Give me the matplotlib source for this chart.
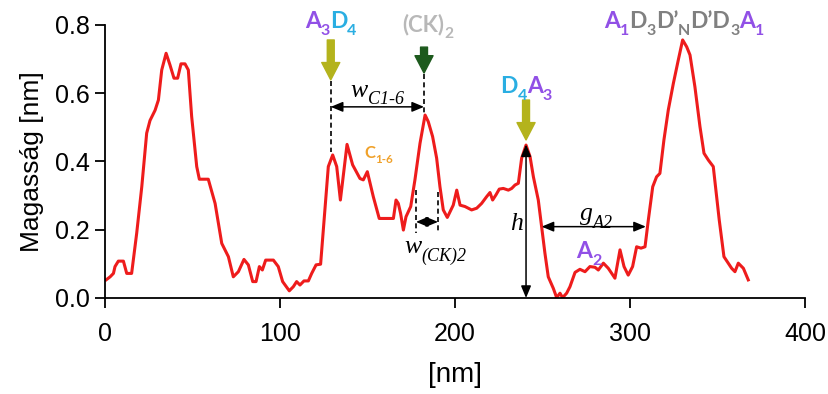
import matplotlib
matplotlib.use("Agg")
import matplotlib.pyplot as plt
from matplotlib.transforms import IdentityTransform

plt.rcParams.update({"font.family": "Liberation Sans", "font.size": 18})

# profile along the line
dist_nm = [0.6, 2.9, 4.8, 5.7, 7.6, 10.5, 12.4, 15.2, 18.1, 21,
           23.8, 25.7, 28.6, 30.5, 32.4, 34.9, 37.1, 39.4, 41.5, 43.4,
           45.7, 47.6, 49.5, 52.4, 53.9, 59, 62.9, 66.7, 70.5, 73.3,
           76.2, 79.4, 81.9, 84.4, 86.3, 88.2, 89.9, 91.8, 96.2, 99,
           101.5, 105.3, 107.6, 109.5, 111.4, 113.7, 116.2, 118.1, 120.6, 123.2,
           127.6, 130.1, 132.4, 134.5, 138.3, 141.5, 145.7, 147.6, 149.9, 153.3,
           156.7, 160, 164.8, 166.3, 167.6, 168.9, 170.5, 172, 174.7, 177.1,
           180, 182.9, 184.7, 187.2, 189.5, 191.4, 193.3, 195.6, 199, 201,
           202.9, 205.7, 209.5, 212.4, 215.2, 218.1, 220, 221.5, 223.4, 225.3,
           227.6, 230.5, 232.4, 234.3, 236.2, 238.1, 240.6, 242.9, 244.8, 247.6,
           249.5, 251.4, 253.3, 256.2, 258.1, 260, 261.5, 263.8, 265.7, 268.6,
           271.4, 274.3, 277.1, 280, 281.9, 284.8, 287.6, 291.4, 294.3, 296.6,
           299, 301.5, 303.8, 306.3, 308.6, 310.5, 313, 315.2, 317.1, 319.4,
           321.9, 324.8, 327.6, 330.1, 332.4, 334.3, 337.1, 340, 342.3, 344.8,
           347.6, 351, 353.7, 356.2, 358.1, 360, 361.9, 364.8, 367.6]
height_nm = [0.053, 0.062, 0.072, 0.092, 0.108, 0.108, 0.072, 0.072, 0.19, 0.326,
             0.483, 0.52, 0.55, 0.58, 0.668, 0.717, 0.683, 0.644, 0.644, 0.686,
             0.686, 0.668, 0.532, 0.385, 0.348, 0.348, 0.277, 0.16, 0.121, 0.062,
             0.077, 0.113, 0.097, 0.048, 0.048, 0.092, 0.082, 0.111, 0.111, 0.092,
             0.048, 0.021, 0.033, 0.048, 0.038, 0.05, 0.05, 0.072, 0.097, 0.099,
             0.385, 0.419, 0.385, 0.287, 0.45, 0.39, 0.35, 0.346, 0.37, 0.297,
             0.233, 0.233, 0.233, 0.287, 0.277, 0.248, 0.199, 0.238, 0.268, 0.346,
             0.453, 0.536, 0.517, 0.473, 0.41, 0.326, 0.258, 0.236, 0.272, 0.316,
             0.272, 0.268, 0.258, 0.263, 0.277, 0.297, 0.309, 0.287, 0.302, 0.319,
             0.321, 0.316, 0.321, 0.331, 0.336, 0.41, 0.448, 0.414, 0.355, 0.287,
             0.209, 0.131, 0.062, 0.028, 0.001, 0.014, 0.001, 0.014, 0.033, 0.075,
             0.084, 0.077, 0.092, 0.09, 0.082, 0.102, 0.087, 0.058, 0.141, 0.092,
             0.067, 0.092, 0.15, 0.146, 0.15, 0.229, 0.326, 0.355, 0.365, 0.463,
             0.551, 0.629, 0.697, 0.756, 0.736, 0.712, 0.619, 0.502, 0.424, 0.404,
             0.385, 0.229, 0.121, 0.102, 0.087, 0.077, 0.102, 0.087, 0.053]

x_ticks = [0, 100, 200, 300, 400]
y_ticks = [0.0, 0.2, 0.4, 0.6, 0.8]
y_ticklabels = ["0.0", "0.2", "0.4", "0.6", "0.8"]

# feature positions [nm]
x_a3d4 = 129
x_ck2 = 182.3
x_d4a3 = 240.6
x_ck_left, x_ck_right = 177.7, 190.3
x_g_start, x_g_end = 249.5, 309.1

PURPLE = "#9150e6"
CYAN = "#2aaee2"
OLIVE = "#b4b31c"
GREEN = "#1d5a1d"
LGRAY = "#b8b8b8"
DGRAY = "#808080"
ORANGE = "#f0a12a"

fig = plt.figure(figsize=(8.29, 3.94), dpi=100)
ax = fig.add_axes([0.1267, 0.2437, 0.8443, 0.693])

ax.plot(dist_nm, height_nm, color="#ee1c1c", lw=2.2, solid_joinstyle="round")

ax.set_xlim(0, 400)
ax.set_ylim(0, 0.8)
ax.set_xticks(x_ticks)
ax.set_yticks(y_ticks)
ax.set_yticklabels(y_ticklabels)
ax.spines["top"].set_visible(False)
ax.spines["right"].set_visible(False)
for s in ("left", "bottom"):
    ax.spines[s].set_linewidth(1.3)
ax.tick_params(direction="out", length=7, width=1.3, labelsize=18)
ax.tick_params(axis="y", pad=4)
ax.tick_params(axis="x", pad=10)
ax.set_ylabel("Magasság [nm]", fontsize=19, labelpad=8)
ax.set_xlabel("[nm]", fontsize=20, labelpad=12)

renderer = fig.canvas.get_renderer()


def piece_label(x, y, parts, size=15, family="Lato", weight="bold", style="normal"):
    # parts: (text, colour, subscript?) - drawn side by side, centred on x, baseline at y
    x0, y0 = ax.transData.transform((x, y))
    made = []
    cur = 0.0
    for s, col, sub in parts:
        fs = size * 0.7 if sub else size
        t = fig.text(0, 0, s, color=col, fontsize=fs, family=family, weight=weight,
                     style=style, transform=IdentityTransform(), va="baseline", ha="left")
        w = t.get_window_extent(renderer).width
        made.append((t, cur, sub))
        cur += w
    drop = size * 0.3 * fig.dpi / 72
    for t, off, sub in made:
        t.set_position((x0 - cur / 2 + off, y0 - (drop if sub else 0)))


def fat_arrow(x, y_tail, y_tip, col):
    ax.annotate("", xy=(x, y_tip), xytext=(x, y_tail), annotation_clip=False,
                arrowprops=dict(arrowstyle="simple,head_width=1.3,head_length=1.25,tail_width=0.5",
                                mutation_scale=10, color=col, shrinkA=0, shrinkB=0))


def dbl_arrow(p0, p1):
    ax.annotate("", xy=p1, xytext=p0, annotation_clip=False,
                arrowprops=dict(arrowstyle="<|-|>,head_length=0.36,head_width=0.15",
                                mutation_scale=20, color="black", lw=1.1,
                                shrinkA=0, shrinkB=0))


def dashed(x, y0, y1):
    ax.plot([x, x], [y0, y1], color="black", lw=1.2, ls=(0, (3, 2)), clip_on=False)


# labels over the peaks
piece_label(x_a3d4, 0.79, [("A", PURPLE, False), ("3", PURPLE, True),
                           ("D", CYAN, False), ("4", CYAN, True)], size=16.5)
piece_label(x_ck2 + 2, 0.78, [("(CK)", LGRAY, False), ("2", LGRAY, True)], size=16)
piece_label(x_d4a3, 0.60, [("D", CYAN, False), ("4", CYAN, True),
                           ("A", PURPLE, False), ("3", PURPLE, True)], size=16.5)
piece_label(331, 0.79, [("A", PURPLE, False), ("1", PURPLE, True),
                        ("D", DGRAY, False), ("3", DGRAY, True),
                        ("D\u2019", DGRAY, False), ("N", DGRAY, True),
                        ("D\u2019D", DGRAY, False), ("3", DGRAY, True),
                        ("A", PURPLE, False), ("1", PURPLE, True)], size=16.5)
piece_label(156.6, 0.41, [("C", ORANGE, False), ("1-6", ORANGE, True)], size=12)
piece_label(276.6, 0.117, [("A", PURPLE, False), ("2", PURPLE, True)], size=16.5)

fat_arrow(x_a3d4, 0.756, 0.639, OLIVE)
fat_arrow(x_ck2, 0.735, 0.659, GREEN)
fat_arrow(x_d4a3, 0.58, 0.463, OLIVE)

# width / height / gap markers
dashed(x_a3d4, 0.636, 0.428)
dashed(x_ck2, 0.655, 0.542)
dbl_arrow((x_a3d4, 0.56), (x_ck2, 0.56))
piece_label(155.4, 0.59, [("w", "black", False), ("C1-6", "black", True)],
            size=18.5, family="Liberation Serif", weight="normal", style="italic")

dashed(x_ck_left, 0.317, 0.19)
dashed(x_ck_right, 0.31, 0.19)
dbl_arrow((x_ck_left, 0.223), (x_ck_right, 0.223))
piece_label(189, 0.132, [("w", "black", False), ("(CK)2", "black", True)],
            size=18.5, family="Liberation Serif", weight="normal", style="italic")

dbl_arrow((x_d4a3, 0.45), (x_d4a3, 0.0))
piece_label(234.9, 0.2, [("h", "black", False)],
            size=18.5, family="Liberation Serif", weight="normal", style="italic")

dbl_arrow((x_g_start, 0.209), (x_g_end, 0.209))
piece_label(281, 0.228, [("g", "black", False), ("A2", "black", True)],
            size=18.5, family="Liberation Serif", weight="normal", style="italic")

fig.savefig("out.png", dpi=100)
